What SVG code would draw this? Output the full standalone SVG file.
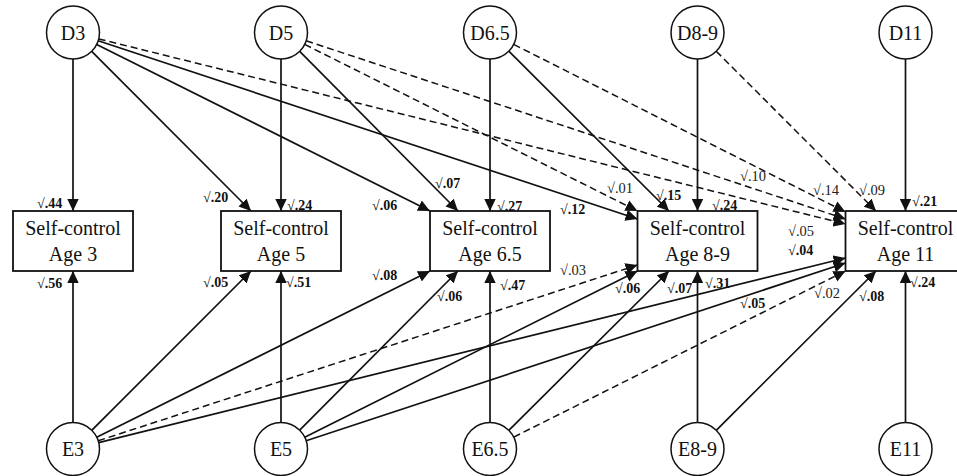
<svg xmlns="http://www.w3.org/2000/svg" width="957" height="476" viewBox="0 0 957 476">
<style>
.bg{fill:#fff}
.c{fill:#fff;stroke:#111;stroke-width:1.5}
.b{fill:#fff;stroke:#111;stroke-width:1.8}
.t{font-family:"Liberation Serif","DejaVu Serif",serif;font-size:20px;fill:#111;text-anchor:middle}
.s{fill:none;stroke:#111;stroke-width:1.7;marker-end:url(#ah)}
.d{fill:none;stroke:#111;stroke-width:1.5;stroke-dasharray:7 4;marker-end:url(#ah)}
.l{font-family:"Liberation Serif","DejaVu Serif",serif;font-size:14px;fill:#111;font-weight:bold}
.n{font-family:"Liberation Serif","DejaVu Serif",serif;font-size:14.5px;fill:#222;font-weight:normal}
</style>
<defs>
<marker id="ah" viewBox="0 0 12 12" markerWidth="12" markerHeight="12" markerUnits="userSpaceOnUse" refX="12" refY="6" orient="auto">
<path d="M0,0.3 L12,6 L0,11.7 z" fill="#111"/>
</marker>
</defs>
<rect class="bg" x="0" y="0" width="957" height="476"/>
<g id="connectors">
<line class="s" x1="73" y1="59" x2="73" y2="211"/>
<line class="s" x1="91.7" y1="51.3" x2="251" y2="211"/>
<line class="s" x1="96.7" y1="44.4" x2="430" y2="211"/>
<line class="s" x1="98.2" y1="40.8" x2="637.5" y2="219"/>
<line class="d" x1="98.7" y1="38.9" x2="845.5" y2="224"/>
<line class="s" x1="281" y1="59" x2="281" y2="211"/>
<line class="s" x1="299.7" y1="51.3" x2="458" y2="211"/>
<line class="d" x1="304.7" y1="44.4" x2="637.5" y2="211"/>
<line class="d" x1="306.2" y1="40.8" x2="845.5" y2="219"/>
<line class="s" x1="490" y1="59" x2="490" y2="211"/>
<line class="s" x1="508.8" y1="51.2" x2="669" y2="211"/>
<line class="d" x1="513.7" y1="44.4" x2="845.5" y2="212"/>
<line class="s" x1="697.5" y1="59" x2="697.5" y2="211"/>
<line class="d" x1="716.2" y1="51.2" x2="876" y2="211"/>
<line class="s" x1="905.5" y1="59" x2="905.5" y2="211"/>
<line class="s" x1="73" y1="422.5" x2="73" y2="271"/>
<line class="s" x1="91.7" y1="430.3" x2="251" y2="271"/>
<line class="s" x1="96.7" y1="437.2" x2="430" y2="271"/>
<line class="d" x1="98.2" y1="440.8" x2="637.5" y2="265"/>
<line class="s" x1="98.7" y1="442.6" x2="845.5" y2="258"/>
<line class="s" x1="281" y1="422.5" x2="281" y2="271"/>
<line class="s" x1="299.7" y1="430.2" x2="458" y2="271"/>
<line class="s" x1="304.7" y1="437.2" x2="637.5" y2="271"/>
<line class="s" x1="306.2" y1="440.7" x2="845.5" y2="263"/>
<line class="s" x1="490" y1="422.5" x2="490" y2="271"/>
<line class="s" x1="508.8" y1="430.3" x2="669" y2="271"/>
<line class="d" x1="513.7" y1="437.1" x2="845.5" y2="271"/>
<line class="s" x1="697.5" y1="422.5" x2="697.5" y2="271"/>
<line class="s" x1="716.2" y1="430.3" x2="876" y2="271"/>
<line class="s" x1="905.5" y1="422.5" x2="905.5" y2="271"/>
</g>
<g id="labels">
<text class="l" x="37" y="207.5">√.44</text>
<text class="l" x="37" y="287.5">√.56</text>
<text class="l" x="203" y="201.5">√.20</text>
<text class="l" x="287" y="209.5">√.24</text>
<text class="l" x="203" y="287">√.05</text>
<text class="l" x="286" y="287">√.51</text>
<text class="l" x="372" y="209.5">√.06</text>
<text class="l" x="435" y="187.5">√.07</text>
<text class="l" x="497" y="210.5">√.27</text>
<text class="l" x="372" y="279.5">√.08</text>
<text class="l" x="437" y="301">√.06</text>
<text class="l" x="500" y="289.5">√.47</text>
<text class="l" x="560" y="214">√.12</text>
<text class="n" x="607" y="192.5">√.01</text>
<text class="l" x="656" y="199.5">√.15</text>
<text class="l" x="712" y="209.5">√.24</text>
<text class="n" x="560" y="274.5">√.03</text>
<text class="l" x="615" y="292.5">√.06</text>
<text class="l" x="667" y="292.5">√.07</text>
<text class="l" x="705" y="287.5">√.31</text>
<text class="n" x="740" y="181">√.10</text>
<text class="n" x="813" y="194.5">√.14</text>
<text class="n" x="859" y="194.5">√.09</text>
<text class="l" x="912" y="206">√.21</text>
<text class="n" x="788" y="236">√.05</text>
<text class="l" x="788" y="254.5">√.04</text>
<text class="l" x="740" y="307.5">√.05</text>
<text class="n" x="814" y="297.5">√.02</text>
<text class="l" x="859" y="301">√.08</text>
<text class="l" x="910" y="287">√.24</text>
</g>
<g id="D3"><circle class="c" cx="73" cy="32.5" r="26.5"/><text class="t" x="73" y="39.5">D3</text></g>
<g id="D5"><circle class="c" cx="281" cy="32.5" r="26.5"/><text class="t" x="281" y="39.5">D5</text></g>
<g id="D6.5"><circle class="c" cx="490" cy="32.5" r="26.5"/><text class="t" x="490" y="39.5">D6.5</text></g>
<g id="D8-9"><circle class="c" cx="697.5" cy="32.5" r="26.5"/><text class="t" x="697.5" y="39.5">D8-9</text></g>
<g id="D11"><circle class="c" cx="905.5" cy="32.5" r="26.5"/><text class="t" x="905.5" y="39.5">D11</text></g>
<g id="SC3"><rect class="b" x="13" y="211" width="120" height="60"/><text class="t" x="73" y="235">Self-control</text><text class="t" x="73" y="261">Age 3</text></g>
<g id="SC5"><rect class="b" x="221" y="211" width="120" height="60"/><text class="t" x="281" y="235">Self-control</text><text class="t" x="281" y="261">Age 5</text></g>
<g id="SC6.5"><rect class="b" x="430" y="211" width="120" height="60"/><text class="t" x="490" y="235">Self-control</text><text class="t" x="490" y="261">Age 6.5</text></g>
<g id="SC8-9"><rect class="b" x="637.5" y="211" width="120" height="60"/><text class="t" x="697.5" y="235">Self-control</text><text class="t" x="697.5" y="261">Age 8-9</text></g>
<g id="SC11"><rect class="b" x="845.5" y="211" width="120" height="60"/><text class="t" x="905.5" y="235">Self-control</text><text class="t" x="905.5" y="261">Age 11</text></g>
<g id="E3"><circle class="c" cx="73" cy="449" r="26.5"/><text class="t" x="73" y="456">E3</text></g>
<g id="E5"><circle class="c" cx="281" cy="449" r="26.5"/><text class="t" x="281" y="456">E5</text></g>
<g id="E6.5"><circle class="c" cx="490" cy="449" r="26.5"/><text class="t" x="490" y="456">E6.5</text></g>
<g id="E8-9"><circle class="c" cx="697.5" cy="449" r="26.5"/><text class="t" x="697.5" y="456">E8-9</text></g>
<g id="E11"><circle class="c" cx="905.5" cy="449" r="26.5"/><text class="t" x="905.5" y="456">E11</text></g>
</svg>
